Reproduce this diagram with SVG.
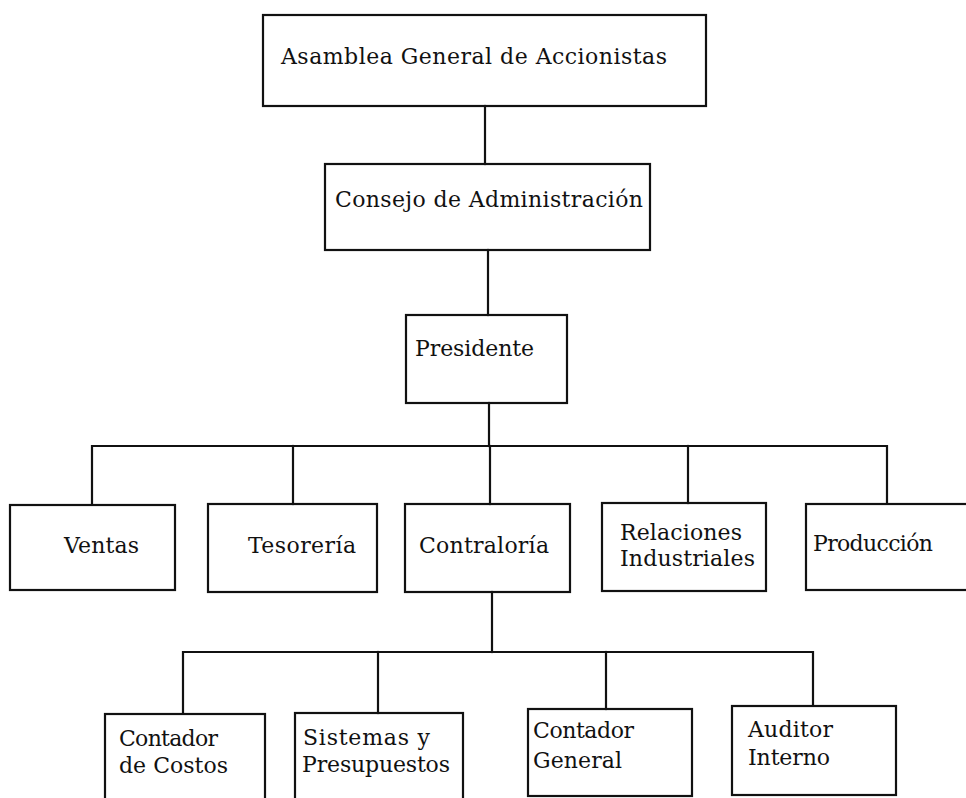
<svg xmlns="http://www.w3.org/2000/svg" width="966" height="798" viewBox="0 0 966 798">
  <style>
    .box { fill: none; stroke: #111; stroke-width: 2.2; }
    .wire { fill: none; stroke: #111; stroke-width: 2.2; stroke-linecap: square; }
    .lbl { font-family: "DejaVu Serif", "Liberation Serif", serif; font-size: 22px; fill: #111; }
  </style>
  <rect width="966" height="798" fill="#fff"/>

  <!-- connectors -->
  <g id="connectors">
    <path class="wire" d="M485 106 V164"/>
    <path class="wire" d="M488 250 V315"/>
    <path class="wire" d="M489 403 V446"/>
    <path class="wire" d="M92 505 V446 H887 V504"/>
    <path class="wire" d="M293 446 V504"/>
    <path class="wire" d="M490 446 V504"/>
    <path class="wire" d="M688 446 V503"/>
    <path class="wire" d="M492 592 V652"/>
    <path class="wire" d="M183 714 V652 H813 V706"/>
    <path class="wire" d="M378 652 V713"/>
    <path class="wire" d="M606 652 V709"/>
  </g>

  <!-- level 0 -->
  <g id="asamblea">
    <rect class="box" x="263" y="15" width="443" height="91"/>
    <text class="lbl" x="281" y="64" textLength="386">Asamblea General de Accionistas</text>
  </g>

  <!-- level 1 -->
  <g id="consejo">
    <rect class="box" x="325" y="164" width="325" height="86"/>
    <text class="lbl" x="335" y="207" textLength="308">Consejo de Administración</text>
  </g>

  <!-- level 2 -->
  <g id="presidente">
    <rect class="box" x="406" y="315" width="161" height="88"/>
    <text class="lbl" x="415" y="356" textLength="119">Presidente</text>
  </g>

  <!-- level 3 -->
  <g id="ventas">
    <rect class="box" x="10" y="505" width="165" height="85"/>
    <text class="lbl" x="64" y="553" textLength="75">Ventas</text>
  </g>
  <g id="tesoreria">
    <rect class="box" x="208" y="504" width="169" height="88"/>
    <text class="lbl" x="248" y="553" textLength="108">Tesorería</text>
  </g>
  <g id="contraloria">
    <rect class="box" x="405" y="504" width="165" height="88"/>
    <text class="lbl" x="419" y="553" textLength="130">Contraloría</text>
  </g>
  <g id="relaciones">
    <rect class="box" x="602" y="503" width="164" height="88"/>
    <text class="lbl" x="620" y="540" textLength="122">Relaciones</text>
    <text class="lbl" x="620" y="566" textLength="135">Industriales</text>
  </g>
  <g id="produccion">
    <rect class="box" x="806" y="504" width="175" height="86"/>
    <text class="lbl" x="813" y="551" textLength="120">Producción</text>
  </g>

  <!-- level 4 -->
  <g id="costos">
    <rect class="box" x="105" y="714" width="160" height="100"/>
    <text class="lbl" x="119" y="746" textLength="99">Contador</text>
    <text class="lbl" x="119" y="773" textLength="109">de Costos</text>
  </g>
  <g id="sistemas">
    <rect class="box" x="295" y="713" width="168" height="100"/>
    <text class="lbl" x="303" y="745" textLength="127">Sistemas y</text>
    <text class="lbl" x="302" y="772" textLength="148">Presupuestos</text>
  </g>
  <g id="general">
    <rect class="box" x="528" y="709" width="164" height="87"/>
    <text class="lbl" x="533" y="738" textLength="101">Contador</text>
    <text class="lbl" x="533" y="768" textLength="89">General</text>
  </g>
  <g id="auditor">
    <rect class="box" x="732" y="706" width="164" height="89"/>
    <text class="lbl" x="748" y="737" textLength="85">Auditor</text>
    <text class="lbl" x="748" y="765" textLength="82">Interno</text>
  </g>
</svg>
